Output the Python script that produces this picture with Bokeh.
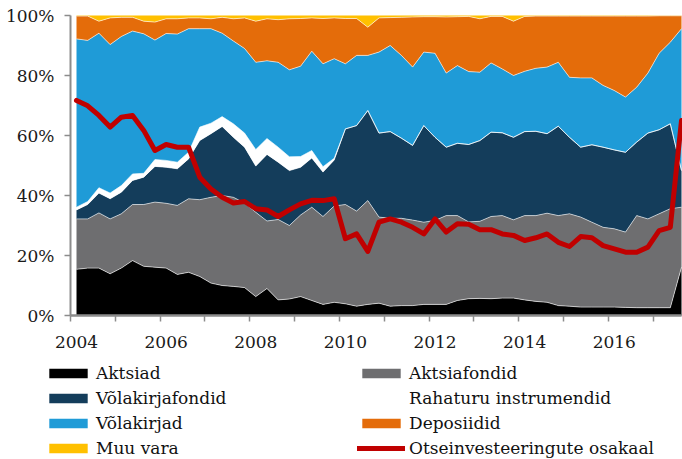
import numpy as np
from bokeh.plotting import figure
from bokeh.models import (ColumnDataSource, Legend, LegendItem, FixedTicker,
                          Range1d, PrintfTickFormatter, LinearAxis)
from bokeh.embed import file_html
from bokeh.resources import INLINE

# Quarterly observations 2004Q1 .. 2017Q3
years = list(range(2004, 2018))
quarter_labels = [f"{y}Q{q}" for y in years for q in (1, 2, 3, 4)][:55]
x_pos = [int(s[:4]) + (int(s[-1]) - 1) / 4 for s in quarter_labels]

aktsiad = [15.4, 15.8, 15.8, 13.9, 15.8, 18.3, 16.4, 16.1, 15.8, 13.7, 14.4, 13.0, 10.8, 10.0,
           9.7, 9.3, 6.3, 9.0, 5.2, 5.5, 6.3, 5.0, 3.7, 4.4, 3.9, 3.1, 3.7, 4.1, 3.1, 3.3,
           3.3, 3.7, 3.7, 3.7, 5.0, 5.6, 5.7, 5.6, 5.8, 5.8, 5.2, 4.7, 4.4, 3.3, 3.1, 2.8,
           2.8, 2.8, 2.8, 2.7, 2.6, 2.6, 2.6, 2.6, 16.1]
aktsiafondid = [16.8, 16.4, 18.4, 18.3, 18.1, 18.7, 20.6, 21.7, 21.6, 23.0, 24.5, 25.6, 28.6, 30.0,
                29.7, 28.2, 28.1, 22.5, 26.8, 24.5, 27.2, 31.1, 29.3, 32.1, 33.1, 31.7, 34.6, 28.7,
                29.3, 29.1, 28.5, 27.4, 28.0, 29.6, 28.3, 25.6, 25.7, 27.4, 27.5, 26.1, 28.1, 28.6,
                29.7, 30.0, 30.8, 30.0, 28.3, 26.6, 26.1, 25.1, 30.7, 29.6, 31.3, 33.0, 20.0]
volakirjafondid = [3.0, 4.8, 6.6, 6.7, 7.2, 8.0, 9.1, 11.9, 12.0, 12.2, 13.3, 19.7, 21.2, 23.0,
                   20.0, 18.6, 15.4, 22.2, 19.1, 18.3, 15.9, 16.4, 14.8, 15.3, 25.2, 28.5, 30.0, 28.0,
                   28.9, 26.7, 24.9, 32.2, 27.7, 22.8, 24.1, 25.8, 26.9, 28.1, 27.6, 27.5, 28.0, 28.1,
                   26.5, 29.8, 25.5, 23.3, 25.8, 26.7, 26.3, 26.6, 24.5, 28.6, 28.0, 28.3, 12.2]
rahaturu = [0.9, 1.0, 1.8, 1.9, 2.2, 2.2, 1.3, 2.3, 2.3, 2.2, 2.2, 4.5, 3.5, 3.3,
            4.5, 4.7, 5.5, 5.3, 5.0, 4.6, 3.6, 2.5, 1.8, 0.6, 0, 0, 0, 0,
            0, 0, 0, 0, 0, 0, 0, 0, 0, 0, 0, 0, 0, 0,
            0, 0, 0, 0, 0, 0, 0, 0, 0, 0, 0, 0, 0]
volakirjad = [56.1, 53.7, 51.5, 49.5, 49.7, 47.6, 46.5, 39.8, 42.3, 42.7, 41.2, 32.8, 31.5, 27.8,
              27.6, 28.2, 29.1, 25.9, 28.3, 29.0, 30.1, 33.1, 34.3, 33.2, 21.7, 23.4, 18.4, 27.0,
              28.7, 27.6, 26.1, 24.5, 28.0, 24.7, 25.9, 24.3, 22.8, 23.1, 21.3, 20.6, 20.1, 21.0,
              22.2, 21.3, 20.0, 23.1, 22.3, 20.6, 19.8, 18.4, 18.3, 20.0, 25.5, 27.2, 47.3]
deposiidid = [7.6, 8.1, 4.0, 8.9, 6.4, 4.6, 4.2, 6.0, 4.9, 5.1, 3.6, 3.6, 3.3, 5.3,
              7.4, 10.2, 13.7, 14.0, 14.2, 17.0, 15.9, 11.1, 15.1, 13.6, 15.1, 12.3, 9.4, 11.4,
              9.3, 12.7, 16.7, 11.8, 12.2, 18.7, 16.3, 18.4, 17.8, 15.5, 17.5, 18.1, 18.3, 17.4,
              17.0, 15.4, 20.4, 20.6, 20.6, 23.1, 24.8, 27.0, 23.7, 19.0, 12.5, 8.8, 4.3]
muu_vara = [0.2, 0.2, 1.9, 0.8, 0.6, 0.6, 1.9, 2.2, 1.1, 1.1, 0.8, 0.8, 1.1, 0.6,
            1.1, 0.8, 1.9, 1.1, 1.4, 1.1, 1.0, 0.8, 1.0, 0.8, 1.0, 1.0, 3.9, 0.8,
            0.7, 0.6, 0.5, 0.4, 0.4, 0.5, 0.4, 0.3, 1.1, 0.3, 0.3, 1.9, 0.3, 0.2,
            0.2, 0.2, 0.2, 0.2, 0.2, 0.2, 0.2, 0.2, 0.2, 0.2, 0.1, 0.1, 0.1]
otseinvesteeringud = [71.7, 69.9, 66.7, 62.8, 66.1, 66.7, 61.7, 55.0, 57.0, 56.1, 56.1, 46.1, 42.2, 39.4,
                      37.5, 38.0, 35.6, 35.2, 33.0, 35.2, 37.2, 38.4, 38.3, 38.9, 25.6, 27.2, 21.4, 31.1,
                      32.2, 31.1, 29.4, 27.2, 32.2, 27.8, 30.6, 30.4, 28.6, 28.6, 27.2, 26.7, 25.0, 25.9,
                      27.2, 24.4, 23.0, 26.3, 25.9, 23.3, 22.2, 21.1, 21.1, 22.8, 28.3, 29.4, 65.0]

series_names = ["Aktsiad", "Aktsiafondid", "Võlakirjafondid", "Rahaturu instrumendid",
                "Võlakirjad", "Deposiidid", "Muu vara"]
series_vals = [aktsiad, aktsiafondid, volakirjafondid, rahaturu, volakirjad, deposiidid, muu_vara]
series_colors = ["#000000", "#6e6e70", "#143d5b", "#ffffff", "#1f9bd7", "#e46c0a", "#ffc000"]
line_name = "Otseinvesteeringute osakaal"
RED = "#c00000"

keys = [f"s{i}" for i in range(len(series_names))]
data = {"x": x_pos, "otse": otseinvesteeringud}
for k, v in zip(keys, series_vals):
    data[k] = v
src = ColumnDataSource(data)

FONT = "DejaVu Serif"
X0, X1 = 2003.866, 2017.5      # extent of the plotting area proper
Y0, Y1 = 0, 100

# The frame covers the whole canvas; axes sit at fixed data positions so the
# legend area below the chart stays inside the frame.
p = figure(width=682, height=459, output_backend="svg", toolbar_location=None,
           x_range=Range1d(2002.304, 2017.522), y_range=Range1d(-48, 105),
           min_border_left=0, min_border_right=0, min_border_top=0, min_border_bottom=0)
p.outline_line_color = None
p.xgrid.visible = False
p.ygrid.visible = False

areas = p.varea_stack(stackers=keys, x="x", color=series_colors, source=src)

# thin light separators along the stacked boundaries
cum = np.cumsum(np.array(series_vals), axis=0)
for j in range(len(series_vals) - 1):
    p.line(x_pos, cum[j], color="white", line_width=0.8, alpha=0.75)

red = p.line("x", "otse", source=src, color=RED, line_width=5,
             line_join="round", line_cap="round")

AX = "#8c8c8c"
for ax in (p.xaxis[0], p.yaxis[0]):
    ax.axis_line_color = AX
    ax.axis_line_width = 2
    ax.major_tick_line_color = AX
    ax.major_tick_line_width = 1.5
    ax.major_tick_in = 0
    ax.major_tick_out = 6
    ax.minor_tick_line_color = None
    ax.major_label_text_font = FONT
    ax.major_label_text_font_size = "17px"
    ax.major_label_text_color = "#1a1a1a"

p.yaxis.fixed_location = X0
p.yaxis.bounds = (Y0, Y1)
p.yaxis.ticker = FixedTicker(ticks=[0, 20, 40, 60, 80, 100])
p.yaxis.formatter = PrintfTickFormatter(format="%d%%")
p.yaxis.major_label_standoff = 10

# year labels (centred on the yearly points), no tick marks
p.xaxis.fixed_location = Y0
p.xaxis.bounds = (X0, X1)
p.xaxis.ticker = FixedTicker(ticks=years)
p.xaxis.major_label_overrides = {y: (str(y) if y % 2 == 0 else "") for y in years}
p.xaxis.major_tick_out = 0
p.xaxis.major_label_standoff = 20

# tick marks between the yearly categories
tick_axis = LinearAxis(fixed_location=Y0, bounds=(X0, X1),
                       ticker=FixedTicker(ticks=[X0 + k for k in range(len(years))]),
                       axis_line_color=AX, axis_line_width=2,
                       major_tick_line_color=AX, major_tick_line_width=1.5,
                       major_tick_in=0, major_tick_out=6, minor_tick_line_color=None,
                       major_label_text_color=None, major_label_text_font_size="1px")
p.add_layout(tick_axis, "below")

order = [0, 2, 4, 6, 1, 3, 5]
items = [LegendItem(label=series_names[i], renderers=[areas[i]]) for i in order]
items.append(LegendItem(label=line_name, renderers=[red]))

legend = Legend(items=items, location=(44, 1), orientation="vertical", nrows=4,
                glyph_width=48, glyph_height=12, label_height=20, label_width=256,
                label_standoff=4, spacing=5, padding=0, margin=0,
                border_line_color=None, background_fill_alpha=0,
                label_text_font=FONT, label_text_font_size="17px",
                label_text_color="#111111")
p.add_layout(legend, "center")

open("out.html", "w").write(file_html(p, INLINE))
